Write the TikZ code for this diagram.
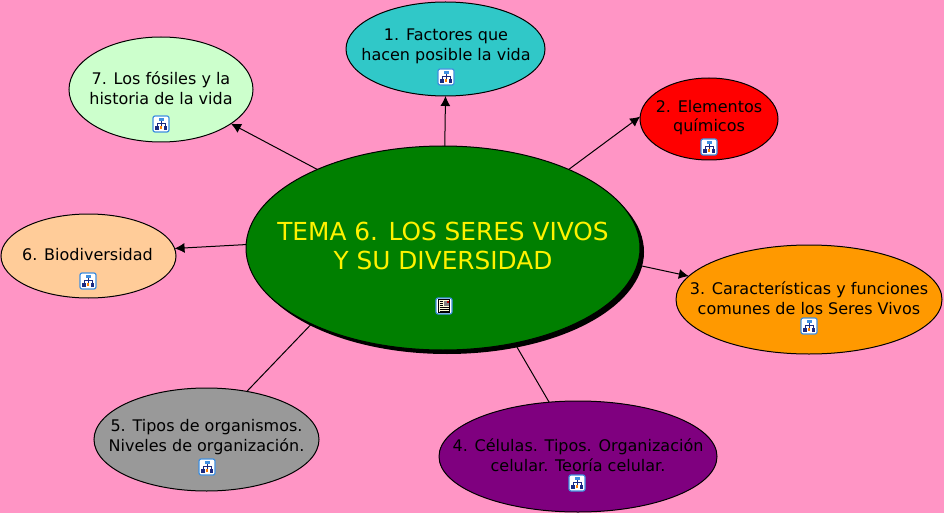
\documentclass[tikz,border=0pt]{standalone}
\usepackage{fontspec}
\setmainfont{DejaVu Sans}
\usetikzlibrary{shapes.geometric,arrows.meta}
\definecolor{bgpink}{HTML}{FF95C5}
\definecolor{tealfill}{HTML}{30C8C8}
\definecolor{peachfill}{HTML}{FFCC99}
\definecolor{mintfill}{HTML}{CCFFCC}
\definecolor{orangefill}{HTML}{FF9900}
\definecolor{purplefill}{HTML}{7F007F}
\definecolor{greyfill}{HTML}{999999}
\definecolor{mainfill}{HTML}{007F00}
\definecolor{iconblue}{HTML}{3F8FE0}
\definecolor{iconnavy}{HTML}{1A2A80}
\tikzset{
	topic/.style={shape=ellipse, draw=black, line width=0.75pt, inner sep=0pt, outer sep=0pt},
	caption/.style={align=center, font=\fontsize{12}{14.7}\selectfont, text=black},
	arrowline/.style={line width=0.75pt, -{Latex[length=7.5pt,width=7.5pt]}},
	plainline/.style={line width=0.75pt},
	mapicon/.pic={
		\draw[iconblue, fill=white, rounded corners=1.5pt, line width=0.9pt] (-8,-8) rectangle (8,8);
		\draw[iconnavy, line width=0.6pt] (0,-3) -- (0,-1) (-4,2) -- (-4,-1) -- (4,-1) -- (4,2) (0,-1) -- (0,2);
		\fill[iconblue] (-2.5,-6) rectangle (2.5,-3);
		\fill[iconnavy] (-6,2) rectangle (-2.5,6);
		\fill[iconnavy] (2.5,2) rectangle (6,6);
		\fill[orange] (-1.2,2) rectangle (1.2,5);
	},
	docicon/.pic={
		\draw[iconblue, fill=white, rounded corners=1.5pt, line width=0.9pt] (-8,-8) rectangle (8,8);
		\draw[black, fill=yellow!15, line width=0.6pt] (-5.5,-6.5) rectangle (5.5,6.5);
		\fill[gray] (0,-5.5) rectangle (4.5,-0.5);
		\fill[red!70!black] (2.5,-5.5) rectangle (4.5,-3.5);
		\draw[black, line width=0.5pt] (-4.5,-4.5) -- (-1,-4.5) (-4.5,-2.5) -- (-1,-2.5) (-4.5,-0.5) -- (-1,-0.5) (-4.5,1.5) -- (4.5,1.5) (-4.5,3.5) -- (4.5,3.5) (-4.5,5.5) -- (4.5,5.5);
	}
}
\begin{document}
\begin{tikzpicture}[x=0.75pt, y=-0.75pt]
	\useasboundingbox (0,0) rectangle (944,513);
	\fill[bgpink] (0,0) rectangle (944,513);
	% shadow goes under the central ellipse
	\node[shape=ellipse, fill=black, inner sep=0pt, minimum width=295.5pt, minimum height=153pt] (mainshadow) at (447,252){};
	\node[topic, fill=mainfill, minimum width=295.5pt, minimum height=153pt] (main) at (443,248){};
	\node[topic, fill=tealfill, minimum width=149.25pt, minimum height=70.5pt] (factores) at (445.5,49){};
	\node[topic, fill=red, minimum width=103.5pt, minimum height=61.5pt] (elementos) at (709,119){};
	\node[topic, fill=orangefill, minimum width=199.5pt, minimum height=81.75pt] (funciones) at (809,299.5){};
	\node[topic, fill=purplefill, minimum width=208.5pt, minimum height=83.25pt] (celulas) at (578,456.5){};
	\node[topic, fill=greyfill, minimum width=168.75pt, minimum height=77.25pt] (organismos) at (206.5,439.5){};
	\node[topic, fill=peachfill, minimum width=131.25pt, minimum height=63pt] (biodiversidad) at (88.5,256){};
	\node[topic, fill=mintfill, minimum width=138pt, minimum height=78.75pt] (fosiles) at (161,89.5){};
	\draw[arrowline] (main.89.5) -- (factores.270);
	\draw[arrowline] (main.32) -- (elementos.178);
	\draw[arrowline] (main.-5.5) -- (funciones.169);
	\draw[plainline] (main.-53) -- (celulas.118);
	\draw[plainline] (main.210) -- (organismos.50);
	\draw[arrowline] (main.179) -- (biodiversidad.5);
	\draw[arrowline] (main.148) -- (fosiles.-26);
	\node[align=center, font=\fontsize{18.6}{22}\selectfont, text=yellow] (maintext) at (443,246){TEMA 6. LOS SERES VIVOS\\Y SU DIVERSIDAD};
	\node[caption] (factorestext) at (446,46.5){1. Factores que\\hacen posible la vida};
	\node[caption] (elementostext) at (709,117.5){2. Elementos\\químicos};
	\node[caption] (funcionestext) at (809,298.5){3. Características y funciones\\comunes de los Seres Vivos};
	\node[caption] (celulastext) at (578,455.5){4. Células. Tipos. Organización\\celular. Teoría celular.};
	\node[caption] (organismostext) at (206.5,437){5. Tipos de organismos.\\Niveles de organización.};
	\node[caption] (biodiversidadtext) at (87.5,255){6. Biodiversidad};
	\node[caption] (fosilestext) at (161,88.5){7. Los fósiles y la\\historia de la vida};
	\pic at (444,306) {docicon};
	\pic at (446,77) {mapicon};
	\pic at (709,147) {mapicon};
	\pic at (809,326) {mapicon};
	\pic at (577,483) {mapicon};
	\pic at (207,467) {mapicon};
	\pic at (88,281) {mapicon};
	\pic at (161,124) {mapicon};
\end{tikzpicture}
\end{document}
